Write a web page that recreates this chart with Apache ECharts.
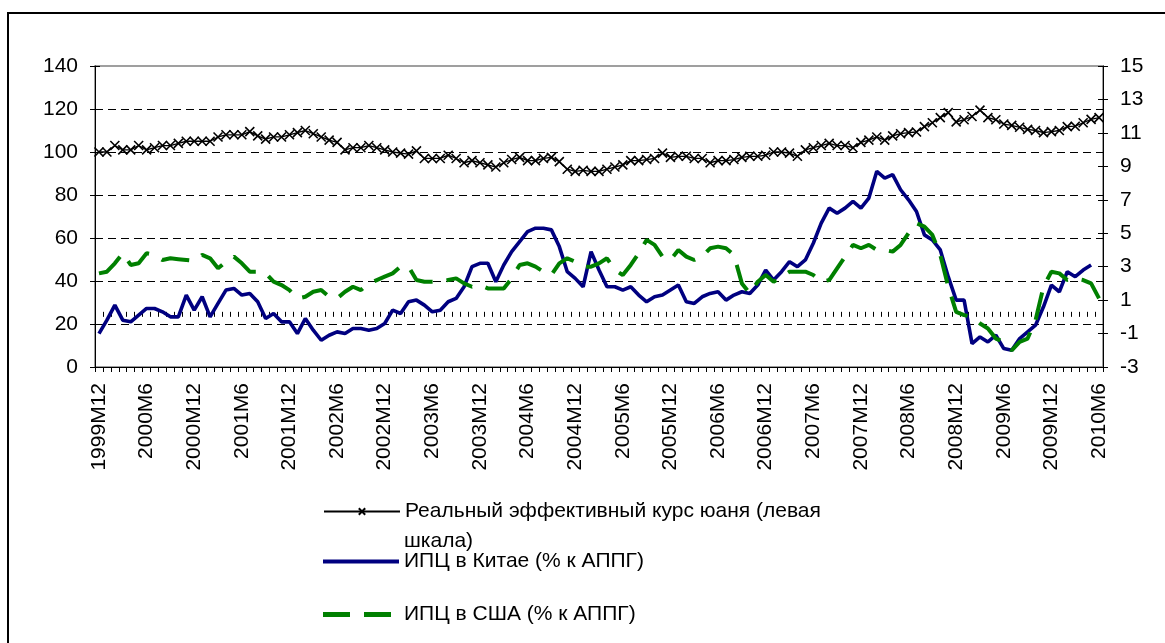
<!DOCTYPE html>
<html>
<head>
<meta charset="utf-8">
<title>REER and CPI</title>
<script src="https://cdn.jsdelivr.net/npm/echarts@6/dist/echarts.min.js"></script>
<style>
html, body { margin: 0; padding: 0; background: #fff; }
#chart { width: 1165px; height: 643px; }
</style>
</head>
<body>
<div id="chart"></div>
<script>
// monthly categories 1999M12 .. 2010M6
const months = [];
let yr = 1999, mo = 12;
while (yr < 2010 || (yr === 2010 && mo <= 6)) {
  months.push(yr + 'M' + mo);
  mo++;
  if (mo > 12) { mo = 1; yr++; }
}

// real effective exchange rate of the yuan (left scale)
const reer = [100,100,103,101,101,103,101,102,103,103,
  104,105,105,105,105,107,108,108,108,109.5,
  107.5,106,107,107,108,109,110,108.5,107,105.5,
  104.5,101,102,102,103,102,101,100,99.5,99,
  100.5,97,97,97,98.5,97,95,96,95,94,
  93,95,96.5,97.5,96,96,97,97.5,95.5,92,
  91,91.5,91,91,92,93,94,96,96,96.5,
  97,99.5,97.5,98,98,97,97,95,96,96,
  96.5,97.5,98,98,98.5,100,100,99.5,98,101,
  102,103,104,103,103,102,104.5,105.5,107,105.5,
  107.5,108.5,109,109.3,111.8,113.6,116,118.3,114,115,
  116.5,119.5,116,115,113,112.4,111.5,110.5,110,109,
  109.5,110,111.8,112,113.6,115.2,116];

// CPI China, % yoy (right scale)
const cpiChina = [-1.0,-0.2,0.7,-0.2,-0.3,0.1,0.5,0.5,0.3,0.0,
  0.0,1.3,0.4,1.2,0.0,0.8,1.6,1.7,1.3,1.4,
  0.9,-0.1,0.2,-0.3,-0.3,-1.0,-0.1,-0.8,-1.4,-1.1,
  -0.9,-1.0,-0.7,-0.7,-0.8,-0.7,-0.4,0.4,0.2,0.9,
  1.0,0.7,0.3,0.4,0.9,1.1,1.8,3.0,3.2,3.2,
  2.1,3.1,3.9,4.5,5.1,5.3,5.3,5.2,4.2,2.7,
  2.3,1.8,3.9,2.8,1.8,1.8,1.6,1.8,1.3,0.9,
  1.2,1.3,1.6,1.9,0.9,0.8,1.2,1.4,1.5,1.0,
  1.3,1.5,1.4,1.9,2.8,2.2,2.7,3.3,3.0,3.4,
  4.4,5.6,6.5,6.2,6.5,6.9,6.5,7.1,8.7,8.3,
  8.5,7.6,7.0,6.3,4.9,4.6,4.0,2.4,1.0,1.0,
  -1.6,-1.2,-1.5,-1.1,-1.9,-2.0,-1.3,-0.9,-0.5,0.6,
  1.9,1.5,2.7,2.4,2.8,3.1,null];

// CPI USA, % yoy (right scale)
const cpiUS = [2.6,2.7,3.2,3.8,3.1,3.2,3.8,3.7,3.4,3.5,
  3.45,3.4,3.35,3.7,3.5,2.9,3.3,3.6,3.2,2.7,
  2.7,2.6,2.1,1.9,1.6,1.1,1.2,1.5,1.6,1.2,
  1.1,1.5,1.8,1.6,2.0,2.2,2.4,2.6,3.0,3.0,
  2.2,2.1,2.1,2.1,2.2,2.3,2.0,1.8,1.9,1.7,
  1.7,1.7,2.3,3.1,3.2,3.0,2.7,2.5,3.2,3.5,
  3.3,3.0,3.0,3.2,3.5,2.8,2.5,3.1,3.8,4.6,
  4.3,3.6,3.4,4.0,3.6,3.4,3.6,4.1,4.2,4.1,
  3.7,2.0,1.4,2.1,2.5,2.1,2.4,2.7,2.7,2.7,
  2.5,2.1,2.2,2.9,3.6,4.3,4.1,4.3,4.0,4.0,
  3.9,4.3,5.0,5.6,5.4,4.9,3.7,1.8,0.3,0.1,
  0.0,-0.4,-0.7,-1.3,-1.5,-2.0,-1.5,-1.3,-0.2,1.8,
  2.7,2.6,2.2,2.3,2.2,2.0,1.1];

const reerLine1 = 'Реальный эффективный курс юаня (левая';
const reerLine2 = 'шкала)';
const reerName = reerLine1 + ' ' + reerLine2;
const cnName = 'ИПЦ в Китае (% к АППГ)';
const usName = 'ИПЦ в США (% к АППГ)';

const FONT = "'Liberation Sans', Arial, sans-serif";
const txt = { fontFamily: FONT, fontSize: 21, color: '#000' };

const chart = echarts.init(document.getElementById('chart'), null, { renderer: 'canvas' });

const leftAxis = {
  type: 'value', position: 'left', min: 0, max: 140, interval: 20,
  axisLine: { show: true, lineStyle: { color: '#000', width: 1 } },
  axisTick: { show: true, length: 5, lineStyle: { color: '#000' } },
  axisLabel: Object.assign({ margin: 17 }, txt),
  splitLine: {
    show: true, showMinLine: false, showMaxLine: false,
    lineStyle: { color: '#000', width: 1, type: [8, 5] }
  }
};
const rightAxis = {
  type: 'value', position: 'right', min: -3, max: 15, interval: 2,
  axisLine: { show: true, lineStyle: { color: '#000', width: 1 } },
  axisTick: { show: true, length: 5, lineStyle: { color: '#000' } },
  axisLabel: Object.assign({ margin: 17 }, txt),
  splitLine: { show: false }
};
// twins that draw the inner half of the crossing ticks
const innerTicks = (ax) => Object.assign({}, ax, {
  axisLine: { show: false },
  axisTick: { show: true, inside: true, length: 5, lineStyle: { color: '#000' } },
  axisLabel: { show: false },
  splitLine: { show: false }
});

chart.setOption({
  animation: false,
  backgroundColor: '#fff',
  grid: { left: 95, right: 62, top: 66, bottom: 276, show: true, borderColor: '#808080', borderWidth: 1.5 },
  xAxis: [
    {
      type: 'category', data: months, boundaryGap: true,
      axisLine: { lineStyle: { color: '#000', width: 1 } },
      axisTick: { show: true, interval: 0, length: 5, lineStyle: { color: '#000' } },
      axisLabel: Object.assign({ interval: 5, rotate: 90, margin: 16 }, txt),
      splitLine: { show: false }
    },
    {
      type: 'category', data: months, boundaryGap: true, position: 'bottom',
      axisLine: { show: false },
      axisTick: { show: true, inside: true, interval: 0, length: 5, lineStyle: { color: '#000' } },
      axisLabel: { show: false },
      splitLine: { show: false }
    }
  ],
  yAxis: [leftAxis, rightAxis, innerTicks(leftAxis), innerTicks(rightAxis)],
  legend: [
    {
      left: 323, top: 501, padding: 0, itemWidth: 76, itemHeight: 8, selectedMode: false,
      data: [{ name: reerName }],
      formatter: () => reerLine1,
      textStyle: txt
    },
    {
      left: 323, top: 551, padding: 0, itemWidth: 76, itemHeight: 4, selectedMode: false,
      data: [{ name: cnName, icon: 'rect' }],
      textStyle: txt
    },
    {
      left: 323, top: 604, padding: 0, itemWidth: 76, itemHeight: 5, selectedMode: false,
      data: [{ name: usName, icon: 'path://M0,0H27V5H0Z M41,0H68V5H41Z M76,0V5' }],
      textStyle: txt
    }
  ],
  graphic: [
    {
      type: 'rect', silent: true, z: -1,
      shape: { x: 8, y: 13, width: 1300, height: 800 },
      style: { fill: 'none', stroke: '#000', lineWidth: 2 }
    },
    {
      type: 'text', left: 404, top: 531, silent: true,
      style: { text: reerLine2, font: '21px ' + FONT, fill: '#000' }
    }
  ],
  series: [
    {
      name: reerName, type: 'line', data: reer, yAxisIndex: 0,
      symbol: 'path://M0,0L10,10M10,0L0,10', symbolSize: 9, showAllSymbol: true,
      color: '#000',
      lineStyle: { width: 1.3, color: '#000' },
      itemStyle: { color: '#000', borderColor: '#000', borderWidth: 1.6 }
    },
    {
      name: cnName, type: 'line', data: cpiChina, yAxisIndex: 1,
      symbol: 'none', color: '#000080',
      lineStyle: { width: 3.6, color: '#000080' }
    },
    {
      name: usName, type: 'line', data: cpiUS, yAxisIndex: 1,
      symbol: 'none', color: '#008000',
      lineStyle: { width: 4, color: '#008000', type: [28, 14] }
    }
  ]
});
</script>
</body>
</html>
